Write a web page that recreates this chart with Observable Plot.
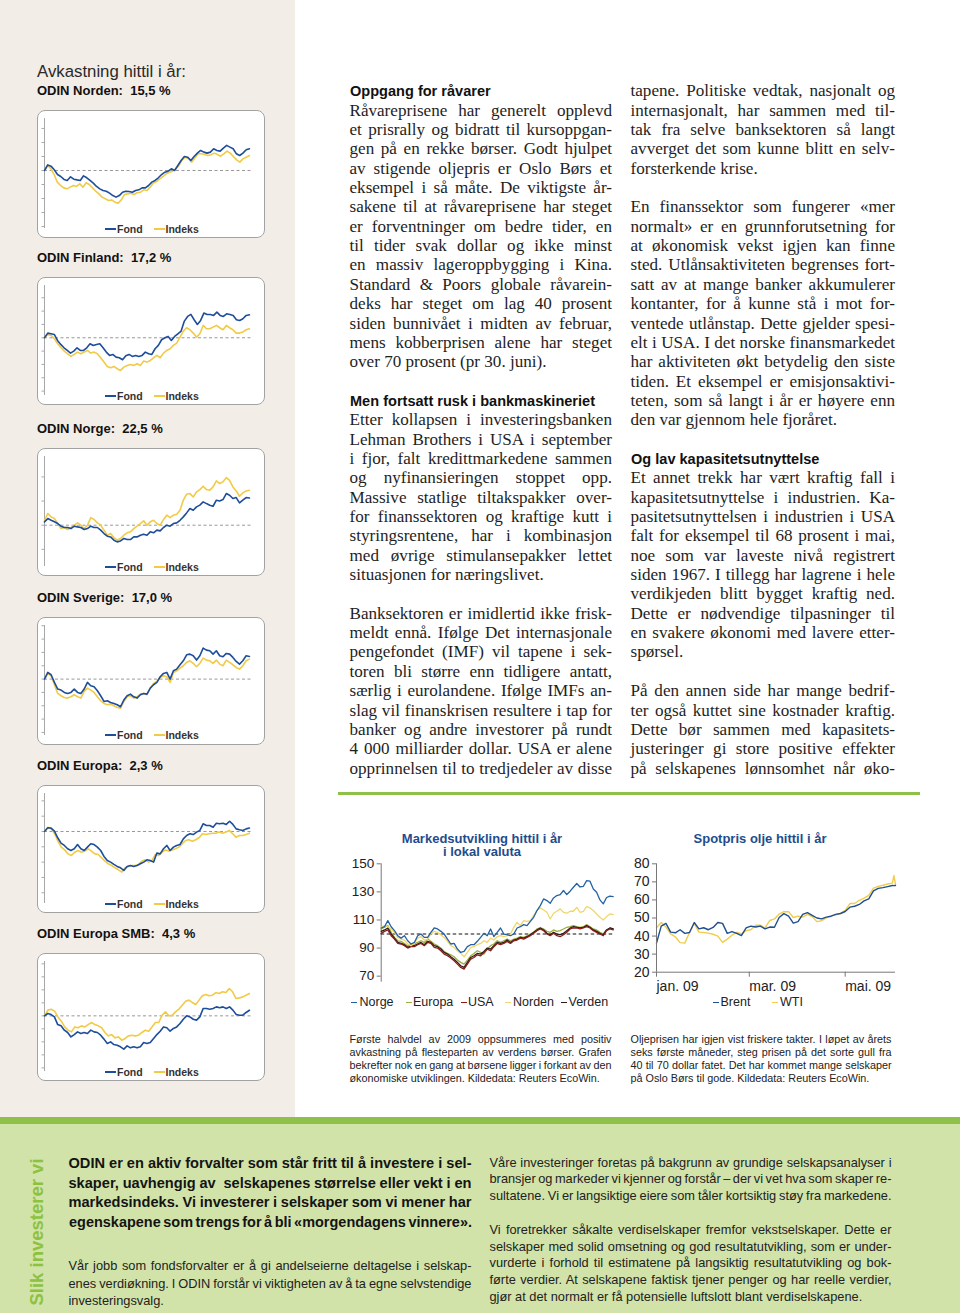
<!DOCTYPE html>
<html lang="no">
<head>
<meta charset="utf-8">
<title>ODIN – Avkastning hittil i år</title>
<script src="https://cdn.jsdelivr.net/npm/d3@7"></script>
<script src="https://cdn.jsdelivr.net/npm/@observablehq/plot@0.6"></script>
<style>
html,body{margin:0;padding:0;background:#fff;}
#page{position:relative;width:960px;height:1313px;overflow:hidden;font-family:"Liberation Sans",Arial,sans-serif;color:#1c1c1c;}
.a{position:absolute;}
.line{position:absolute;white-space:pre;transform-origin:0 0;}
.line span{display:inline-block;white-space:pre;}
.box{position:absolute;width:228px;height:128px;background:#fff;border-radius:8px;}
.box .frame{position:absolute;left:0;top:0;right:0;bottom:0;border:1.2px solid #a2a2a2;border-radius:8px;box-sizing:border-box;pointer-events:none;}
.box svg{position:absolute;left:0;top:0;}
.lg{position:absolute;font-weight:bold;font-size:10.5px;color:#333;white-space:nowrap;line-height:12px;}
.sw{position:absolute;height:2px;}
.ctitle{position:absolute;font-weight:bold;font-size:13px;white-space:pre;color:#111;line-height:16px;}
.leg{position:absolute;font-size:12.5px;color:#222;white-space:nowrap;line-height:14px;}
.legsw{position:absolute;height:1.6px;width:6px;}
.ttl{position:absolute;font-weight:bold;font-size:13px;color:#1f4c8c;text-align:center;line-height:13px;white-space:nowrap;}
.chart{position:absolute;}
</style>
</head>
<body>
<div id="page">
  <div class="a" style="left:0;top:0;width:295px;height:1117px;background:#f3ede8"></div>
  <div class="a" style="left:0;top:1117px;width:960px;height:7px;background:#8fc04a"></div>
  <div class="a" style="left:0;top:1124px;width:960px;height:189px;background:#d1e3a9"></div>
  <div class="a" style="left:338px;top:792px;width:582px;height:3px;background:#8fc04a"></div>
  <div class="a" style="left:37px;top:61px;font-size:16.8px;color:#2a2a2a;white-space:nowrap;line-height:22px;">Avkastning hittil i år:</div>
  <div class="a" style="left:-43px;top:1221px;width:160px;height:22px;line-height:22px;text-align:center;transform:rotate(-90deg);font-weight:bold;font-size:18.5px;color:#8cc23f;white-space:nowrap;">Slik investerer vi</div>
</div>
<script>
// ---------- DATA: small fund charts (avkastning i %, relativ til årets start) ----------
const nordenFond   = [0,4.0,3.1,0.5,-2.9,-4.3,-6.4,-7.1,-4.5,-6.2,-6.7,-7.1,-3.8,-5.2,-7.1,-9.0,-11.4,-13.1,-14.3,-14.8,-16.2,-17.9,-19.0,-17.9,-15.5,-14.8,-15.0,-15.5,-14.3,-13.8,-12.4,-12.4,-10.7,-8.3,-7.1,-5.2,-2.9,-1.2,-0.5,1.2,0,3.6,7.1,10.0,9.5,7.1,10.0,12.4,14.3,13.1,12.4,13.1,15.5,14.3,13.8,16.0,17.9,16.7,15.5,11.9,10.7,12.4,14.8,15.5];
const nordenIndeks = [0,3.6,1.2,-2.9,-8.3,-10.7,-12.4,-13.1,-11.9,-10.7,-11.4,-9.5,-11.9,-8.8,-10.0,-12.4,-14.8,-16.7,-19.0,-20.2,-21.4,-21.0,-22.6,-23.3,-21.0,-17.1,-16.7,-16.2,-17.1,-15.7,-15.5,-13.8,-14.3,-11.9,-9.0,-7.9,-6.0,-4.3,-2.4,-1.2,-0.5,1.2,3.6,7.6,9.5,8.3,6.0,9.0,11.9,11.9,11.4,10.7,11.2,12.4,11.4,10.2,11.9,13.8,12.4,10.0,7.6,6.0,8.3,9.5,10.7];
const finlandFond   = [0,3.5,3,2.5,-2,-5,-7.5,-9.5,-11.5,-10,-7.5,-9.5,-9.5,-7.5,-4.5,-5.75,-5,-4.5,-7.5,-10.75,-13.25,-12.5,-14.5,-15,-16.5,-13.5,-12.5,-14,-13.25,-14,-13.25,-10.75,-12,-12.5,-8.25,-5.75,-1.5,0,1,-2,1,3,5,12.5,16,17.5,13.5,10,13,18.5,17.5,17.5,16.75,19.25,16.75,16,18,17.5,16.75,13.5,13,14.25,16.75,17.2];
const finlandIndeks = [0,2.5,1.75,-0.75,-4.5,-7.5,-10,-12,-14,-12.5,-10.75,-12,-10.75,-9.5,-11.5,-10.75,-12,-15,-18.25,-21.5,-22.5,-21.5,-23.25,-24.5,-22,-20.75,-20,-20.75,-19.5,-20.75,-17.5,-18.25,-17,-15,-13.25,-15,-11.5,-9.5,-8.25,-5.75,-4,0.5,5,7.5,6,3.5,0.5,3,9.25,6.75,6.75,8,9.25,7.5,6,9.25,7.5,6,3.5,3.5,4.25,6,6.75];
const norgeFond   = [2.8,5.5,4.1,2.8,1.4,-0.8,-1.9,-1.9,-2.8,-0.8,-1.4,-1.9,-3.6,-2.8,-0.8,-1.9,-1.9,-4.1,-6.9,-9.1,-9.7,-12.4,-13.8,-13.0,-11.0,-11.9,-11.9,-9.7,-9.7,-8.3,-7.4,-8.3,-5.5,-6.3,-4.1,-4.7,-1.9,0,-0.8,1.4,1.9,4.1,6.9,10.2,13.8,12.4,15.2,16.6,19.3,17.9,16.6,15.7,20.7,20.1,21.2,26.2,24.8,22.1,22.9,18.5,20.7,22.9,22.5];
const norgeIndeks = [4.1,9.7,6.9,5.5,1.4,-2.8,-1.9,-3.6,-1.9,0,1.9,0,-2.8,0,6.3,4.7,1.9,0,-4.1,-8.3,-6.9,-10.2,-12.4,-11.0,-8.3,-6.3,-5.5,-2.8,-0.8,1.4,3.6,0,2.8,4.1,1.4,0,4.7,8.3,6.3,8.3,9.1,12.4,20.7,25.7,26.2,23.4,27.6,29.5,32.3,29.5,29.0,31.7,36.7,34.5,35.9,39.4,37.2,31.7,28.4,24.0,26.8,28.4,29.0];
const sverigeFond   = [0,5,3.25,-2.5,-7.5,-8.25,-10,-10.75,-10,-7.5,-10,-10.75,-7.5,-2.5,-5,-5.75,-8.75,-12.5,-16.75,-16.25,-17.5,-18.25,-19.25,-20.75,-15.75,-12.5,-11.25,-13.25,-14.25,-11.75,-10.75,-11.25,-6.75,-4.25,-2.5,1.75,4.25,5,0,6.25,7.5,10.75,13.75,18.25,18.75,17.5,14.25,17.5,23.25,21.75,21.25,18.75,21.25,17.5,16.75,19.25,18.75,16.25,13.25,11.25,13.75,17.5,17.0];
const sverigeIndeks = [0,4.25,2.5,-4.25,-10.75,-12.5,-13.75,-14.25,-13.25,-11.75,-13.25,-14.25,-9.25,-6.75,-8.25,-10,-13.25,-16.25,-18.25,-19.25,-18.75,-20,-21.25,-21.75,-16.75,-13.25,-12.5,-14.25,-13.25,-11.25,-10.75,-11.75,-6.75,-3.25,-1.75,1.25,2.5,1.75,-2.5,5,6.25,8.25,10,12.5,13.75,11.75,9.25,11.75,15.75,14.25,13.75,11.75,14.25,11.25,10,14.25,12.5,10.75,8.75,7.5,10,13.75,15];
const europaFond   = [0,2.4,2.2,0.2,-4.1,-7.6,-9.1,-11.3,-12.4,-11.3,-8.5,-11.3,-12.4,-10.2,-8.0,-8.5,-10.2,-12.4,-16.3,-18.9,-20.0,-21.5,-22.8,-23.7,-25.4,-22.8,-22.2,-22.8,-22.2,-21.1,-20.0,-18.5,-18.9,-20.0,-14.1,-14.6,-11.3,-9.1,-12.4,-10.2,-9.1,-8.5,-4.8,-2.6,-1.5,-2.0,-0.4,0.7,5.0,3.9,3.9,2.8,5.4,5.0,5.4,4.6,6.7,4.6,1.7,1.1,0.7,1.7,2.3];
const europaIndeks = [0,2.8,1.7,-1.5,-6.3,-10.2,-12.0,-14.6,-15.7,-13.5,-12.4,-13.5,-12.8,-11.3,-12.8,-14.6,-15.0,-17.2,-19.3,-21.1,-22.2,-23.7,-25.0,-26.5,-23.7,-22.8,-22.2,-22.2,-21.5,-19.3,-18.5,-20.0,-18.9,-15.0,-15.7,-13.5,-12.0,-12.8,-12.0,-11.3,-10.2,-8.0,-5.9,-5.4,-6.3,-5.4,-4.1,-1.5,-2.0,-1.5,-1.1,-1.1,-0.4,-1.1,-0.4,0.7,-1.5,-3.7,-2.6,-2.6,-2.0,-1.1];
const smbFond   = [0,1.8,1.0,-0.8,-6.7,-7.7,-11.0,-12.8,-16.2,-14.4,-12.3,-13.6,-12.8,-13.6,-11.0,-12.3,-12.8,-14.9,-17.9,-21.3,-20.0,-22.1,-22.6,-23.8,-25.6,-23.1,-24.6,-23.8,-24.6,-23.8,-20.5,-21.3,-20.5,-17.4,-14.4,-11.8,-8.5,-9.2,-11.8,-9.7,-8.5,-5.9,-2.6,0,-0.8,-2.6,-3.3,-0.8,5.6,5.6,5.1,5.6,6.9,6.2,6.9,5.6,6.9,4.4,1.0,0.5,0.5,2.6,4.3];
const smbIndeks = [0,4.4,5.1,3.6,-0.8,-4.1,-8.5,-11.0,-12.3,-8.5,-9.2,-7.7,-8.5,-6.7,-5.1,-6.7,-7.7,-9.2,-12.8,-15.4,-14.4,-16.9,-16.2,-18.7,-17.4,-15.4,-14.9,-15.4,-14.9,-12.8,-11.0,-11.8,-8.5,-5.1,-5.1,0.5,3.1,0,0.5,3.1,5.1,8.2,11.3,12.1,10.3,8.7,12.1,15.4,16.4,15.4,15.9,17.9,17.2,18.5,17.9,21.0,18.5,13.3,13.8,14.6,15.9,17.2];

const fundTitles = ["ODIN Norden:  15,5 %","ODIN Finland:  17,2 %","ODIN Norge:  22,5 %","ODIN Sverige:  17,0 %","ODIN Europa:  2,3 %","ODIN Europa SMB:  4,3 %"];
const fundLegend = ["Fond","Indeks"];

// ---------- DATA: Markedsutvikling hittil i år (indeks, start = 100) ----------
const marketNames = ["Norge","Europa","USA","Norden","Verden"];
const mNorge  = [104.3,105.2,109.5,105.2,102.4,98.8,97.1,98.8,95.2,92.9,94.0,98.8,100.0,97.6,97.6,101.2,104.3,103.6,101.9,100,96.4,92.9,93.3,89.3,86.9,87.6,91.0,92.4,92.4,94.8,97.6,100.5,98.8,103.6,98.1,101.2,104.3,100,99.5,98.8,100,104.3,105.2,106.7,106.0,109.0,111.9,116.7,120.2,125.0,123.8,121.9,125.7,127.4,128.1,131.0,128.1,130.5,133.3,136,133.5,134,138,137.6,132.1,129.8,124.3,121.5,126,127,126.7];
const mEuropa = [103.6,104.8,106.0,101.2,97.6,95.2,94.8,93.3,91.7,92.4,92.9,94.0,95.2,94.0,96.4,94.8,92.9,91.7,90.0,87.6,86.2,85.2,83.8,81.4,79.8,78.6,81.4,84.5,86.2,88.1,86.9,85.7,89.3,91.7,92.9,95.2,94.0,95.2,96.4,95.2,96.4,97.1,98.1,97.6,98.8,100,101.2,103.6,104.3,103.6,101.9,101.2,102.9,101.9,102.4,103.6,104.8,105.2,106.0,105.2,104.8,105.2,106.7,105.2,103.6,102.9,101.2,100,102.9,104.3,103.6];
const mUSA    = [100.5,101.9,102.9,98.8,96.4,93.3,92.9,91.7,90.0,91.0,91.0,92.4,93.3,91.7,94.0,93.3,90.5,90.0,88.1,85.7,84.5,82.9,81.0,78.6,76.2,75.0,78.6,82.1,83.3,85.2,84.5,86.9,89.3,88.1,91.0,93.3,92.4,93.3,94.8,93.3,95.2,95.7,97.1,96.4,97.6,98.8,100.5,102.4,103.6,102.4,100,98.8,100.5,98.8,98.1,99.5,101.2,103.6,104.3,104.3,103.6,104.3,105.2,104.3,102.4,101.2,100,98.8,102.4,103.6,102.9];
const mNorden = [104.8,106.0,105.2,103.6,101.2,97.6,96.4,95.7,92.9,91.7,93.3,97.1,98.1,95.7,96.4,100,101.9,101.2,99.5,97.6,94.8,91.7,90.5,88.1,86.2,83.8,86.9,90.5,91.0,92.4,93.3,95.2,94.0,97.1,95.7,98.1,98.8,98.1,98.8,100,104.8,108.3,106.0,109.5,109.0,109.5,113.1,116.7,118.6,117.1,115.5,110.7,114.8,116.2,117.9,115.5,114.8,116.2,116.2,119.0,115.5,116.2,119.5,118.6,116.7,114.3,111.9,110.0,112.4,114.3,113.8];
const mVerden = [101.9,102.9,104.3,100,97.1,94.0,93.3,92.4,90.5,91.7,91.7,92.9,94.0,92.4,94.8,94.0,91.7,91.0,89.3,86.9,85.7,83.8,82.1,79.8,77.4,76.2,79.8,83.3,84.5,86.2,85.7,87.6,90.0,89.3,91.7,94.0,93.3,94.0,95.7,94.0,95.7,96.4,97.6,97.1,98.1,99.5,101.2,102.9,104.3,102.9,100.5,99.5,101.2,100,99.5,100.5,102.4,104.3,105.2,104.8,104.3,104.8,106.0,104.8,102.9,101.9,100.5,99.5,102.9,104.3,103.6];
const marketTicks = [70,90,110,130,150];

// ---------- DATA: Spotpris olje hittil i år (USD per fat), dag etter 1. januar 2009 ----------
const oilDays = [0,3,6,9,12,15,18,21,24,27,30,33,36,39,42,45,48,51,54,57,60,63,66,69,72,75,78,81,84,87,90,93,96,99,102,105,108,111,114,117,120,123,126,129,132,135,138,141,144,147,150,151,152];
const brent = [36.1,45.5,47,42.2,41.8,43.5,41.5,42,47.5,44,44.6,43.5,44.8,47.5,47,41.5,42.5,41.5,40.3,44.5,45.5,45,45.5,44,45,44.9,50.3,52.4,51,47.2,48,52,53,51.5,50,49.5,50.5,51,52,52.5,53.6,56,56.5,57.5,59.5,60.6,65,66.4,66.8,67.4,68,67.9,68];
const wti   = [44.6,47.5,45,41.2,39.6,36.4,36.1,42,47,42.2,42,41.6,41,40,36.5,38.3,40.5,42,41.3,43,43.5,46,46,44.5,48.6,49.5,52.2,53.5,53.5,50.3,51,50.5,52,50.8,48,48.5,50.1,51.2,51.8,52.5,54.2,58,58,59.8,61,62.5,66.5,67.5,68.1,68.8,69.3,73.5,68.5];
const oilTicks = [20,30,40,50,60,70,80];
const oilTickDays = [0,59,120];
const oilTickLabels = ["jan. 09","mar. 09","mai. 09"];
const oilNames = ["Brent","WTI"];

// ---------- TEXT ----------
const col1 = [
"#Oppgang for råvarer",
"Råvareprisene har generelt opplevd",
"et prisrally og bidratt til kursoppgan-",
"gen på en rekke børser. Godt hjulpet",
"av stigende oljepris er Oslo Børs et",
"eksempel i så måte. De viktigste år-",
"sakene til at råvareprisene har steget",
"er forventninger om bedre tider, en",
"til tider svak dollar og ikke minst",
"en massiv lageroppbygging i Kina.",
"Standard & Poors globale råvarein-",
"deks har steget om lag 40 prosent",
"siden bunnivået i midten av februar,",
"mens kobberprisen alene har steget",
"=over 70 prosent (pr 30. juni).",
"",
"#Men fortsatt rusk i bankmaskineriet",
"Etter kollapsen i investeringsbanken",
"Lehman Brothers i USA i september",
"i fjor, falt kredittmarkedene sammen",
"og nyfinansieringen stoppet opp.",
"Massive statlige tiltakspakker over-",
"for finanssektoren og kraftige kutt i",
"styringsrentene, har i kombinasjon",
"med øvrige stimulansepakker lettet",
"=situasjonen for næringslivet.",
"",
"Banksektoren er imidlertid ikke frisk-",
"meldt ennå. Ifølge Det internasjonale",
"pengefondet (IMF) vil tapene i sek-",
"toren bli større enn tidligere antatt,",
"særlig i eurolandene. Ifølge IMFs an-",
"slag vil finanskrisen resultere i tap for",
"banker og andre investorer på rundt",
"4 000 milliarder dollar. USA er alene",
"opprinnelsen til to tredjedeler av disse"
];
const col2 = [
"tapene. Politiske vedtak, nasjonalt og",
"internasjonalt, har sammen med til-",
"tak fra selve banksektoren så langt",
"avverget det som kunne blitt en selv-",
"=forsterkende krise.",
"",
"En finanssektor som fungerer «mer",
"normalt» er en grunnforutsetning for",
"at økonomisk vekst igjen kan finne",
"sted. Utlånsaktiviteten begrenses fort-",
"satt av at mange banker akkumulerer",
"kontanter, for å kunne stå i mot for-",
"ventede utlånstap. Dette gjelder spesi-",
"elt i USA. I det norske finansmarkedet",
"har aktiviteten økt betydelig den siste",
"tiden. Et eksempel er emisjonsaktivi-",
"teten, som så langt i år er høyere enn",
"=den var gjennom hele fjoråret.",
"",
"#Og lav kapasitetsutnyttelse",
"Et annet trekk har vært kraftig fall i",
"kapasitetsutnyttelse i industrien. Ka-",
"pasitetsutnyttelsen i industrien i USA",
"falt for eksempel til 68 prosent i mai,",
"noe som var laveste nivå registrert",
"siden 1967. I tillegg har lagrene i hele",
"verdikjeden blitt bygget kraftig ned.",
"Dette er nødvendige tilpasninger til",
"en svakere økonomi med lavere etter-",
"=spørsel.",
"",
"På den annen side har mange bedrif-",
"ter også kuttet sine kostnader kraftig.",
"Dette bør sammen med kapasitets-",
"justeringer gi store positive effekter",
"på selskapenes lønnsomhet når øko-"
];
const cap1 = [
"Første halvdel av 2009 oppsummeres med positiv",
"avkastning på flesteparten av verdens børser. Grafen",
"bekrefter nok en gang at børsene ligger i forkant av den",
"=økonomiske utviklingen. Kildedata: Reuters EcoWin."
];
const cap2 = [
"Oljeprisen har igjen vist friskere takter. I løpet av årets",
"seks første måneder, steg prisen på det sorte gull fra",
"40 til 70 dollar fatet. Det har kommet mange selskaper",
"=på Oslo Børs til gode. Kildedata: Reuters EcoWin."
];
const greenBold = [
"ODIN er en aktiv forvalter som står fritt til å investere i sel-",
"skaper, uavhengig av  selskapenes størrelse eller vekt i en",
"markedsindeks. Vi investerer i selskaper som vi mener har",
"egenskapene som trengs for å bli «morgendagens vinnere»."
];
const greenLeft = [
"Vår jobb som fondsforvalter er å gi andelseierne deltagelse i selskap-",
"enes verdiøkning. I ODIN forstår vi viktigheten av å ta egne selvstendige",
"=investeringsvalg."
];
const greenRight = [
"Våre investeringer foretas på bakgrunn av grundige selskapsanalyser i",
"bransjer og markeder vi kjenner og forstår – der vi vet hva som skaper re-",
"=sultatene. Vi er langsiktige eiere som tåler kortsiktig støy fra markedene.",
"",
"Vi foretrekker såkalte verdiselskaper fremfor vekstselskaper. Dette er",
"selskaper med solid omsetning og god resultatutvikling, som er under-",
"vurderte i forhold til estimatene på langsiktig resultatutvikling og bok-",
"førte verdier. At selskapene faktisk tjener penger og har reelle verdier,",
"=gjør at det normalt er få potensielle luftslott blant verdiselskapene."
];

// ---------- COLOURS ----------
const cFond = "#1d4d9b", cIndeks = "#f1cb45";
const marketColors = {Norge:"#2360a4", Europa:"#9cad3c", USA:"#8c1b1b", Norden:"#f2d668", Verden:"#2a1c1a"};
const oilColors = {Brent:"#1f4f90", WTI:"#f2cc4a"};

const page = document.getElementById("page");
function div(cls, css, text) {
  const d = document.createElement("div");
  if (cls) d.className = cls;
  Object.assign(d.style, css);
  if (text != null) d.textContent = text;
  page.appendChild(d);
  return d;
}

// ---------- SMALL FUND CHARTS ----------
const fundCharts = [
  {top:110,   fond:nordenFond,  indeks:nordenIndeks,  domain:[-41.4,37.1], ticks:[-40,-30,-20,-10,0,10,20,30]},
  {top:277,   fond:finlandFond, indeks:finlandIndeks, domain:[-43.3,39.2], ticks:[-40,-30,-20,-10,0,10,20,30]},
  {top:448,   fond:norgeFond,   indeks:norgeIndeks,   domain:[-34.2,56.9], ticks:[-20,0,20,40]},
  {top:616.5, fond:sverigeFond, indeks:sverigeIndeks, domain:[-42.3,40.2], ticks:[-40,-30,-20,-10,0,10,20,30,40]},
  {top:785,   fond:europaFond,  indeks:europaIndeks,  domain:[-47,24.8],   ticks:[-40,-30,-20,-10,0,10,20]},
  {top:953,   fond:smbFond,     indeks:smbIndeks,     domain:[-42.8,41.8], ticks:[-40,-30,-20,-10,0,10,20,30,40]}
];
const pts = arr => arr.map((v, i) => ({x: i / (arr.length - 1), v}));

fundCharts.forEach((c, k) => {
  div("ctitle", {left:"37px", top:(c.top - 19 - 8) + "px"}, fundTitles[k]);
  const box = div("box", {left:"37px", top:c.top + "px"});
  const svg = Plot.plot({
    width: 228, height: 128,
    marginLeft: 7, marginRight: 13, marginTop: 8, marginBottom: 10,
    x: {domain: [0, 1.015], axis: null},
    y: {domain: c.domain, axis: null},
    style: {background: "transparent", overflow: "visible"},
    marks: [
      Plot.ruleY([0], {stroke: "#8c8c8c", strokeWidth: 0.9, strokeDasharray: "3,2.5"}),
      Plot.ruleX([0], {stroke: "#a8a8a8", strokeWidth: 1}),
      Plot.axisY({ticks: c.ticks, tickSize: 2.5, tickFormat: () => "", stroke: "#a8a8a8", label: null}),
      Plot.line(pts(c.indeks), {x: "x", y: "v", stroke: cIndeks, strokeWidth: 1.6}),
      Plot.line(pts(c.fond), {x: "x", y: "v", stroke: cFond, strokeWidth: 1.6})
    ]
  });
  box.appendChild(svg);
  const fr = document.createElement("div"); fr.className = "frame"; box.appendChild(fr);
  [[68, cFond, 80, fundLegend[0]], [116.5, cIndeks, 128.5, fundLegend[1]]].forEach(([sx, col, tx, label]) => {
    const s = document.createElement("div"); s.className = "sw";
    Object.assign(s.style, {left: sx + "px", top: "117.5px", width: "11px", background: col});
    box.appendChild(s);
    const t = document.createElement("div"); t.className = "lg";
    Object.assign(t.style, {left: tx + "px", top: "112.5px"}); t.textContent = label;
    box.appendChild(t);
  });
});

// ---------- MARKET CHART ----------
const marketSeries = {Norge: mNorge, Europa: mEuropa, USA: mUSA, Norden: mNorden, Verden: mVerden};
const marketRows = [];
["Europa","Verden","USA","Norden","Norge"].forEach(name => {
  marketSeries[name].forEach((v, i, a) => marketRows.push({name, x: i / (a.length - 1), v}));
});
div("ttl", {left:"382px", top:"831.5px", width:"200px"}, "Markedsutvikling hittil i år");
div("ttl", {left:"382px", top:"844.5px", width:"200px"}, "i lokal valuta");
const mChart = Plot.plot({
  width: 285, height: 135,
  marginLeft: 45.7, marginRight: 7.3, marginTop: 8.3, marginBottom: 8.3,
  x: {domain: [0, 1], axis: null},
  y: {domain: [65.7, 150], axis: null},
  style: {background: "transparent", overflow: "visible", fontFamily: "Liberation Sans, Arial, sans-serif", color: "#222"},
  marks: [
    Plot.ruleX([0], {stroke: "#777", strokeWidth: 1}),
    Plot.axisY({ticks: marketTicks, tickSize: 4, tickPadding: 3, fontSize: 13.5, stroke: "#777", label: null, tickFormat: d => String(d)}),
    Plot.ruleY([100], {stroke: "#111", strokeWidth: 1.1, strokeDasharray: "3.5,2.5"}),
    Plot.line(marketRows, {x: "x", y: "v", z: "name", stroke: d => marketColors[d.name], strokeWidth: 1.3})
  ]
});
const mWrap = div("chart", {left:"335px", top:"855px"});
mWrap.appendChild(mChart);
const mLegX = [[351, 359.5], [405.5, 413], [460.5, 468], [505, 513], [560.5, 568.5]];
marketNames.forEach((n, i) => {
  div("legsw", {left: mLegX[i][0] + "px", top: "1001.5px", background: marketColors[n]});
  div("leg", {left: mLegX[i][1] + "px", top: "995px"}, n);
});

// ---------- OIL CHART ----------
div("ttl", {left:"660px", top:"831.5px", width:"200px"}, "Spotpris olje hittil i år");
const oilRows = [];
["WTI","Brent"].forEach(name => {
  const arr = name === "Brent" ? brent : wti;
  arr.forEach((v, i) => oilRows.push({name, day: oilDays[i], v}));
});
const oChart = Plot.plot({
  width: 290, height: 145,
  marginLeft: 46, marginRight: 5, marginTop: 8.3, marginBottom: 28.3,
  x: {domain: [0, 152], axis: null},
  y: {domain: [20, 80], axis: null},
  style: {background: "transparent", overflow: "visible", fontFamily: "Liberation Sans, Arial, sans-serif", color: "#222"},
  marks: [
    Plot.axisY({ticks: oilTicks, tickSize: 4, tickPadding: 3, fontSize: 14, stroke: "#777", label: null, tickFormat: d => String(d)}),
    Plot.axisX({ticks: oilTickDays, tickSize: 5, tickPadding: 4, fontSize: 14, stroke: "#777", label: null, textAnchor: "start",
      tickFormat: d => oilTickLabels[oilTickDays.indexOf(d)]}),
    Plot.line(oilRows, {x: "day", y: "v", z: "name", stroke: d => oilColors[d.name], strokeWidth: 1.4}),
    Plot.ruleX([0], {stroke: "#777", strokeWidth: 1}),
    Plot.ruleY([20], {stroke: "#777", strokeWidth: 1})
  ]
});
const oWrap = div("chart", {left:"610px", top:"855px"});
oWrap.appendChild(oChart);
const oLegX = [[713, 720.5], [772, 780]];
oilNames.forEach((n, i) => {
  div("legsw", {left: oLegX[i][0] + "px", top: "1001.5px", background: oilColors[n]});
  div("leg", {left: oLegX[i][1] + "px", top: "995px"}, n);
});

// ---------- JUSTIFIED TEXT ----------
function addLines(lines, spec) {
  lines.forEach((raw, i) => {
    if (raw === "") return;
    let type = "j", text = raw;
    if (raw[0] === "#") { type = "h"; text = raw.slice(1); }
    else if (raw[0] === "=") { type = "l"; text = raw.slice(1); }
    const st = type === "h" ? spec.h : spec.b;
    const d = div("line", {
      left: spec.x + "px", top: (spec.y0 + i * spec.lh - spec.lh / 2) + "px",
      height: spec.lh + "px", lineHeight: spec.lh + "px",
      fontFamily: st.family, fontSize: st.size + "px", fontWeight: st.weight || "normal", color: st.color
    });
    const s = document.createElement("span"); s.textContent = text; d.appendChild(s);
    const sx = st.sx || 1;
    const target = spec.w / sx;
    const w = s.getBoundingClientRect().width;
    const spaces = (text.match(/ /g) || []).length;
    let scale = sx;
    if (type === "j" || w > target) {
      let ws = spaces ? (target - w) / spaces : 0;
      const minWs = -(st.minWs != null ? st.minWs : 1.5);
      if (ws < minWs) { ws = spaces ? minWs : 0; scale = sx * target / (w + ws * spaces); }
      if (type !== "j" && ws > 0) ws = 0;
      s.style.wordSpacing = ws + "px";
    }
    d.style.transform = "scaleX(" + scale + ")";
  });
}
const serifBody = {family: "Liberation Serif, Times New Roman, serif", size: 17.1, color: "#1e1e1e"};
const sansHead = {family: "Liberation Sans, Arial, sans-serif", size: 15, weight: "bold", color: "#111", sx: 0.97};
addLines(col1, {x: 349.5, y0: 91, lh: 19.35, w: 262.5, b: serifBody, h: sansHead});
addLines(col2, {x: 630.5, y0: 91, lh: 19.35, w: 264.5, b: serifBody, h: sansHead});
const capStyle = {family: "Liberation Sans, Arial, sans-serif", size: 10.8, color: "#222", minWs: 1.2};
addLines(cap1, {x: 349.5, y0: 1039, lh: 13, w: 262, b: capStyle, h: capStyle});
addLines(cap2, {x: 630.5, y0: 1039, lh: 13, w: 261, b: capStyle, h: capStyle});
const gBold = {family: "Liberation Sans, Arial, sans-serif", size: 14.6, weight: "bold", color: "#141414", sx: 1};
addLines(greenBold, {x: 68.5, y0: 1164, lh: 19.4, w: 403, b: gBold, h: gBold});
const gNorm = {family: "Liberation Sans, Arial, sans-serif", size: 12.8, color: "#222", sx: 1};
addLines(greenLeft, {x: 68.5, y0: 1266, lh: 17.3, w: 403, b: gNorm, h: gNorm});
addLines(greenRight, {x: 489.5, y0: 1163, lh: 16.8, w: 402, b: gNorm, h: gNorm});
</script>
</body>
</html>
